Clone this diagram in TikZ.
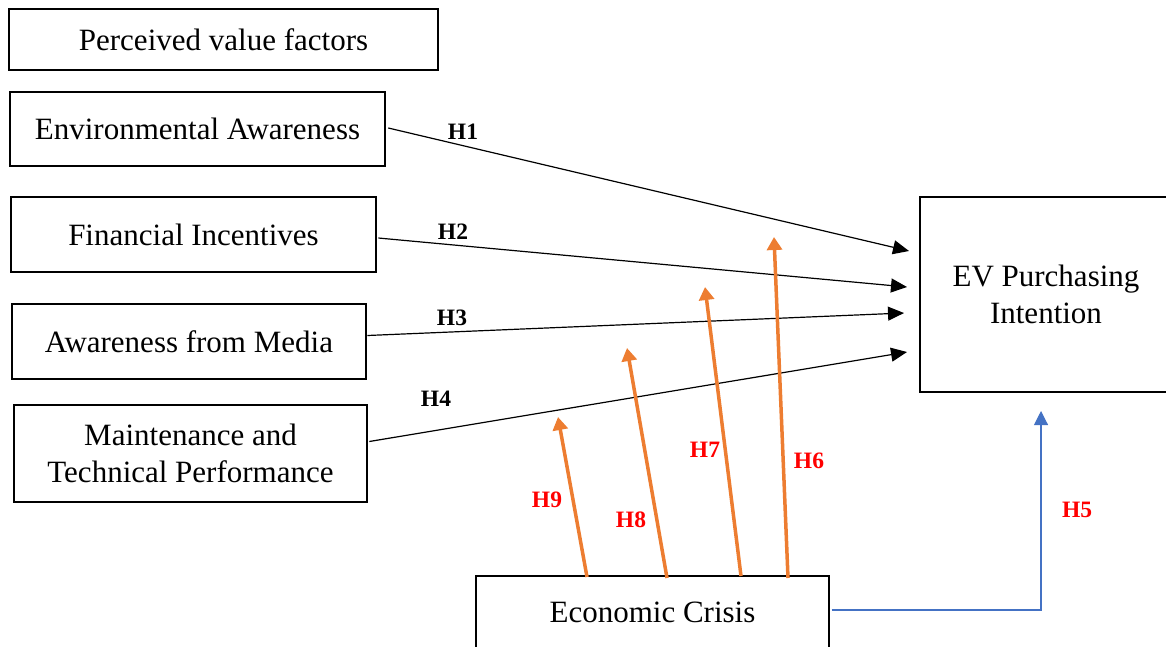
\documentclass[tikz,border=0pt]{standalone}
\usepackage{fontspec}
\setmainfont{Liberation Serif}
\usetikzlibrary{arrows.meta}
\definecolor{corange}{HTML}{ED7D31}
\definecolor{cblue}{HTML}{4472C4}
\definecolor{cred}{HTML}{FF0000}
\tikzset{
  boxnode/.style={draw=black, line width=2.6pt, inner sep=0pt, align=center,
    font=\fontsize{31}{37}\selectfont},
  blkarrow/.style={draw=black, line width=1.2pt, -{Triangle[length=16pt,width=14pt]}},
  orarrow/.style={draw=corange, line width=3.5pt, -{Triangle[length=13pt,width=15pt]}},
  bluearrow/.style={draw=cblue, line width=1.1pt, -{Triangle[length=14pt,width=14pt]}},
  hblack/.style={font=\fontsize{23.5}{25}\selectfont\bfseries, text=black, inner sep=0pt},
  hred/.style={font=\fontsize{23.5}{25}\selectfont\bfseries, text=cred, inner sep=0pt}
}
\begin{document}
\begin{tikzpicture}[x=1pt,y=-1pt]
\useasboundingbox (0,0) rectangle (1166,646);
\clip (0,0) rectangle (1166,646);
% boxes
\node[boxnode, minimum width=429pt, minimum height=61pt] (pv) at (223.5,39.5) {Perceived value factors};
\node[boxnode, minimum width=375pt, minimum height=74pt] (env) at (197.5,129) {Environmental Awareness};
\node[boxnode, minimum width=365pt, minimum height=75pt] (fin) at (193.5,234.5) {Financial Incentives};
\node[boxnode, minimum width=354pt, minimum height=75pt] (med) at (189,341.5) {Awareness from Media};
\node[boxnode, minimum width=353pt, minimum height=97pt] (mnt) at (190.5,453.5) {Maintenance and\\Technical Performance};
\node[boxnode, minimum width=252pt, minimum height=195pt] (ev) at (1046,294.5) {EV Purchasing\\Intention};
\node[boxnode, minimum width=353pt, minimum height=72pt] (eco) at (652.5,612) {Economic Crisis};
% tips of the arrows
\coordinate (t1) at (909,251);
\coordinate (t2) at (907,287);
\coordinate (t3) at (904,313);
\coordinate (t4) at (907,352);
\coordinate (s9) at (587,577);
\coordinate (s8) at (667,578);
\coordinate (s7) at (741,576);
\coordinate (s6) at (788,578);
\coordinate (e9) at (558,417);
\coordinate (e8) at (627,348);
\coordinate (e7) at (705,287);
\coordinate (e6) at (774,237);
\coordinate (b5) at (1041,411);
% black connectors
\draw[blkarrow] ([xshift=2pt,yshift=1pt]env.east) -- (t1);
\draw[blkarrow] ([xshift=1pt,yshift=-3.5pt]fin.east) -- (t2);
\draw[blkarrow] ([yshift=6pt]med.east) -- (t3);
\draw[blkarrow] ([xshift=1pt,yshift=12pt]mnt.east) -- (t4);
% orange connectors
\draw[orarrow] (s9) -- (e9);
\draw[orarrow] (s8) -- (e8);
\draw[orarrow] (s7) -- (e7);
\draw[orarrow] (s6) -- (e6);
% blue connector
\draw[bluearrow] ([xshift=1.3pt,yshift=2pt]eco.east) -| (b5);
% labels
\node[hblack] (l1) at (463,132) {H1};
\node[hblack] (l2) at (453,232) {H2};
\node[hblack] (l3) at (452,318) {H3};
\node[hblack] (l4) at (436,399) {H4};
\node[hred] (l5) at (1077,510) {H5};
\node[hred] (l6) at (809,461) {H6};
\node[hred] (l7) at (705,450) {H7};
\node[hred] (l8) at (631,520) {H8};
\node[hred] (l9) at (547,500) {H9};
\end{tikzpicture}
\end{document}
